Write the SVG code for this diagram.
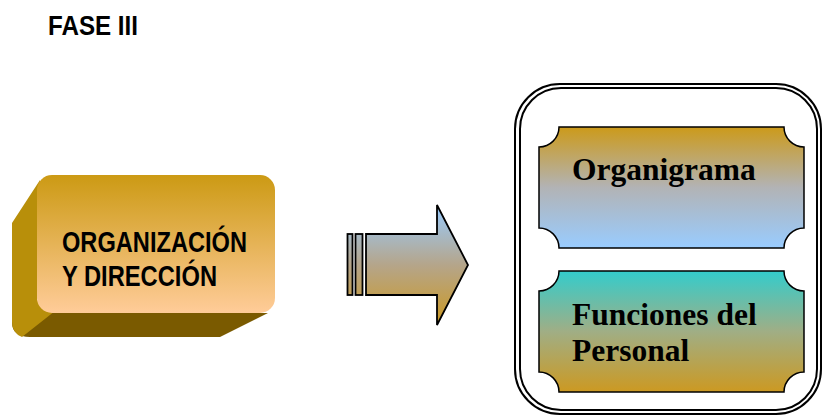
<svg xmlns="http://www.w3.org/2000/svg" width="822" height="417" viewBox="0 0 822 417">
  <defs>
    <linearGradient id="gFront" x1="0" y1="0" x2="0" y2="1">
      <stop offset="0" stop-color="#CC9A14"/>
      <stop offset="1" stop-color="#FFCC99"/>
    </linearGradient>
    <linearGradient id="gArrow" gradientUnits="userSpaceOnUse" x1="0" y1="205" x2="0" y2="325">
      <stop offset="0" stop-color="#99CCFF"/>
      <stop offset="0.5" stop-color="#B5A58A"/>
      <stop offset="1" stop-color="#CC9922"/>
    </linearGradient>
    <linearGradient id="gOrg" x1="0" y1="0" x2="0" y2="1">
      <stop offset="0" stop-color="#CC9A1A"/>
      <stop offset="0.5" stop-color="#B2B3B5"/>
      <stop offset="1" stop-color="#99CCFF"/>
    </linearGradient>
    <linearGradient id="gFun" x1="0" y1="0" x2="0" y2="1">
      <stop offset="0" stop-color="#33CCCC"/>
      <stop offset="0.5" stop-color="#A0AE85"/>
      <stop offset="1" stop-color="#CC9922"/>
    </linearGradient>
  </defs>
  <style>
    .sans { font-family: "Liberation Sans", Arial, sans-serif; font-weight: bold; fill: #000; }
    .serif { font-family: "Liberation Serif", "Times New Roman", serif; font-weight: bold; font-size: 31.5px; fill: #000; }
    .plaque { stroke: #000; stroke-width: 1.5; }
    .frame { fill: none; stroke: #000; stroke-width: 2; }
    .arrow { stroke: #000; stroke-width: 1.8; fill: url(#gArrow); }
  </style>

  <text class="sans" x="48" y="35" font-size="28" textLength="90" lengthAdjust="spacingAndGlyphs">FASE III</text>

  <g id="organizacion">
    <path d="M 45 300 L 12 322 Q 12 337 30 337 L 220 337 L 268 313 L 50 313 Z" fill="#7A5A00"/>
    <path d="M 40 180 L 12 223 L 12 322 Q 12 333 22 337 L 55 311 L 37 300 Z" fill="#B88F0A"/>
    <rect x="37" y="175" width="238" height="138" rx="15" ry="15" fill="url(#gFront)"/>
    <text class="sans" x="62" y="252" font-size="29" textLength="185" lengthAdjust="spacingAndGlyphs">ORGANIZACIÓN</text>
    <text class="sans" x="62" y="286" font-size="29" textLength="155" lengthAdjust="spacingAndGlyphs">Y DIRECCIÓN</text>
  </g>

  <g id="connectors">
    <rect class="arrow" x="347.5" y="234" width="5" height="61"/>
    <rect class="arrow" x="355.5" y="234" width="7" height="61"/>
    <path class="arrow" d="M 366 234 H 437 V 205 L 468 265 L 437 325 V 295 H 366 Z"/>
  </g>

  <g id="contenedor">
    <rect class="frame" x="515" y="84" width="306" height="330" rx="45" ry="45"/>
    <rect class="frame" x="520" y="88" width="297" height="322" rx="41" ry="41"/>
  </g>

  <g id="organigrama">
    <path class="plaque" fill="url(#gOrg)" d="M 559 127 H 784 A 20 20 0 0 0 804 147 V 228 A 20 20 0 0 0 784 248 H 559 A 20 20 0 0 0 539 228 V 147 A 20 20 0 0 0 559 127 Z"/>
    <text class="serif" x="572" y="180">Organigrama</text>
  </g>

  <g id="funciones">
    <path class="plaque" fill="url(#gFun)" d="M 559 271 H 784 A 20 20 0 0 0 804 291 V 372 A 20 20 0 0 0 784 392 H 559 A 20 20 0 0 0 539 372 V 291 A 20 20 0 0 0 559 271 Z"/>
    <text class="serif" x="572" y="325">Funciones del</text>
    <text class="serif" x="572" y="361">Personal</text>
  </g>
</svg>
